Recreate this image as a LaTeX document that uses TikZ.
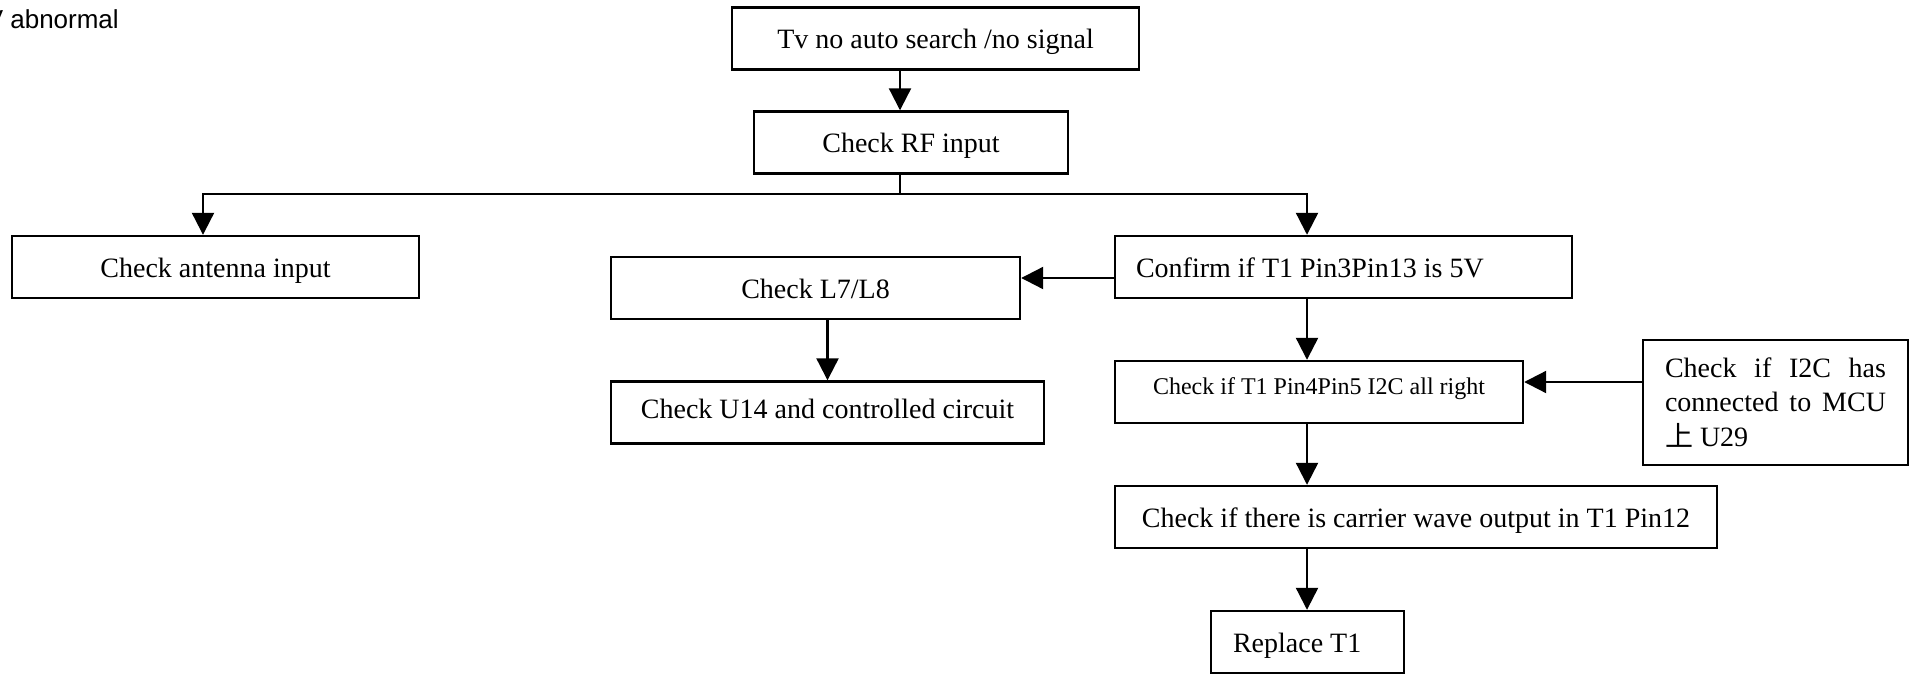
\documentclass[tikz,border=0pt]{standalone}
\usepackage{fontspec}
\setmainfont{Liberation Serif}
\setsansfont{Liberation Sans}
\newfontfamily\cjk{Noto Sans CJK SC}
\usetikzlibrary{arrows.meta,positioning}

\begin{document}
\begin{tikzpicture}[>={Triangle[length=11pt,width=11pt]}, x=0.5pt, y=-0.5pt, on grid, node distance=62.5pt]
	\tikzstyle{box}=[draw=black,line width=1.2pt,minimum height=31pt,inner sep=4pt,font=\fontsize{14}{17.25}\selectfont]
	\tikzstyle{oneline}=[text height=12pt,text depth=2pt]
	\tikzstyle{conn}=[line width=1.1pt]
	\useasboundingbox (0,0) rectangle (1915,674);
	\node[anchor=base west,inner sep=0pt,font=\sffamily\fontsize{13}{15}\selectfont] (head) at (-14.6,29) {V abnormal};
	\node[box,oneline,minimum width=203.5pt] (tv) at (935.5,38.5) {Tv no auto search /no signal};
	\node[box,oneline,minimum width=157pt] (rf) [below=52pt of tv, xshift=-12.25pt] {Check RF input};
	\node[box,oneline,minimum width=203.5pt] (ant) [below left=62.25pt and 347.75pt of rf] {Check antenna input};
	\node[box,oneline,inner xsep=10.5pt] (conf) [below right=62.25pt and 216.25pt of rf] {\makebox[207.5pt][l]{Confirm if T1 Pin3Pin13 is 5V}};
	\node[box,oneline,minimum width=204.5pt] (l78) [below left=10.5pt and 264pt of conf] {Check L7/L8};
	\node[box,minimum width=216.5pt,text height=10pt,text depth=4pt] (u14) [below right=62.25pt and 6pt of l78] {Check U14 and controlled circuit};
	\node[box,minimum width=204pt,text height=9pt,text depth=7pt,font=\fontsize{12}{14}\selectfont] (i2c) [below left=62.5pt and 12.25pt of conf] {Check if T1 Pin4Pin5 I2C all right};
	\node[box,inner xsep=11pt,minimum height=62.5pt] (mcu) [below right=5.25pt and 228.25pt of i2c] {\parbox[c]{110.5pt}{Check\hfill if\hfill I2C\hfill has\\connected\hfill to\hfill MCU\\{\cjk 上} U29}};
	\node[box,oneline,minimum width=301pt] (carr) [below right=62.5pt and 48.5pt of i2c] {Check if there is carrier wave output in T1 Pin12};
	\node[box,oneline,inner xsep=11pt] (repl) [below left=62.5pt and 54.25pt of carr] {\makebox[74.5pt][l]{Replace T1}};

	\coordinate (split) at (900,194);
	\coordinate (spine) at (1307,0);
	\draw[conn,->] (tv.south -| split) -- (rf.north -| split);
	\draw[conn] (rf.south -| split) -- (split);
	\draw[conn,->] (split) -| ([xshift=-6.25pt]ant.north);
	\draw[conn,->] (split) -| (conf.north -| spine);
	\draw[conn,->] ([yshift=-5.5pt]conf.west) -- ([yshift=-5.5pt]conf.west -| l78.east);
	\draw[conn,->] (l78.south -| u14.north) -- (u14.north);
	\draw[conn,->] (conf.south -| spine) -- (i2c.north -| spine);
	\draw[conn,->] ([yshift=10.25pt]mcu.west) -- ([yshift=10.25pt]mcu.west -| i2c.east);
	\draw[conn,->] (i2c.south -| spine) -- (carr.north -| spine);
	\draw[conn,->] (carr.south -| spine) -- (repl.north -| spine);
\end{tikzpicture}
\end{document}
